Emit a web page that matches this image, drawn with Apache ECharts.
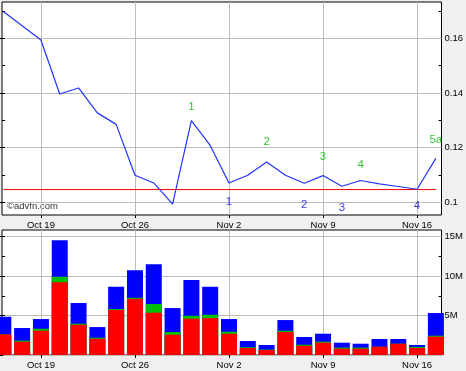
<!DOCTYPE html>
<html><head><meta charset="utf-8">
<script src="https://cdn.jsdelivr.net/npm/echarts@6/dist/echarts.min.js"></script>
<style>html,body{margin:0;padding:0;background:#f0f0f0}#c{width:466px;height:371px}</style>
</head><body><div id="c"></div>
<script>
// trading days (index = position on the axis)
const dates = ['Oct 15','Oct 16','Oct 19','Oct 20','Oct 21','Oct 22','Oct 23','Oct 26','Oct 27','Oct 28','Oct 29','Oct 30',
  'Nov 2','Nov 3','Nov 4','Nov 5','Nov 6','Nov 9','Nov 10','Nov 11','Nov 12','Nov 13','Nov 16','Nov 17'];
const price = [0.1697,0.1645,0.1593,0.1396,0.1418,0.1327,0.1285,0.1099,0.1071,0.0994,0.1299,0.1208,
  0.1071,0.1099,0.1148,0.1099,0.1070,0.1098,0.1059,0.1080,0.1068,0.1058,0.1048,0.1161];
const refLevel = 0.1047;
// volume (millions)
const volRed   = [2.62,1.68,3.08,9.24,3.84,2.06,5.70,7.13,5.36,2.57,4.60,4.68,2.70,0.89,0.63,2.91,1.18,1.56,0.80,0.80,1.05,1.43,0.89,2.32];
const volGreen = [0.00,0.15,0.25,0.67,0.13,0.13,0.13,0.13,1.10,0.34,0.38,0.42,0.25,0.10,0.06,0.16,0.13,0.13,0.13,0.13,0.00,0.00,0.13,0.13];
const volBlue  = [2.23,1.59,1.23,4.65,2.61,1.35,2.82,3.50,5.06,3.04,4.52,3.55,1.61,0.78,0.58,1.36,0.97,1.01,0.63,0.50,0.98,0.60,0.25,2.87];
// axis ticks
const dateTickIdx = [2,7,12,17,22];
const dateTickLabels = ['Oct 19','Oct 26','Nov 2','Nov 9','Nov 16'];
const priceTicks = [0.10,0.12,0.14,0.16];
const priceMinor = [0.11,0.13,0.15,0.17];
const priceAll = [0.10,0.11,0.12,0.13,0.14,0.15,0.16,0.17];
const volTicks = [0,5,10,15];
const volLabels = [5,10,15];
const volMinor = [2.5,7.5,12.5];
const volAll = [2.5,5,7.5,10,12.5,15];
// annotations
const greenIdx = [10,14,17,19,23], greenText = ['1','2','3','4','5a'], greenVal = [0.1350,0.1223,0.1165,0.1139,0.1227];
const blueIdx = [12,16,18,22], blueText = ['1','2','3','4'], blueVal = [0.1002,0.0991,0.0979,0.0987];

const FONT = 'Liberation Sans';
const xMin = -0.07, xMax = 23.3;
const pMin = 0.0954, pMax = 0.1732;
const vMin = 0, vMax = 15.85;
const gridColor = '#b9bdbd';

// stacked tops (red, red+green, red+green+blue), drawn as overlapping bars
const topRed = volRed.map((v, i) => [i, v]);
const topGreen = volRed.map((v, i) => [i, v + volGreen[i]]);
const topBlue = volRed.map((v, i) => [i, v + volGreen[i] + volBlue[i]]);

function xAxisFor(gi) {
  return {
    type: 'value', gridIndex: gi, min: xMin, max: xMax, position: 'bottom',
    axisLine: {show: false},
    axisTick: {show: true, inside: false, length: 3, customValues: dateTickIdx, lineStyle: {color: '#000'}},
    axisLabel: {show: true, margin: 5, customValues: dateTickIdx, color: '#000', fontFamily: FONT, fontSize: 9.5,
      formatter: v => dateTickLabels[dateTickIdx.indexOf(Math.round(v))] || ''},
    splitLine: {show: true, lineStyle: {color: gridColor, width: 1}}
  };
}
function yTick(gi, pos, min, max, vals, len, extra) {
  return Object.assign({
    type: 'value', gridIndex: gi, position: pos, min: min, max: max,
    axisLine: {show: false},
    axisTick: {show: true, inside: true, length: len, customValues: vals, lineStyle: {color: '#000'}},
    axisLabel: {show: false, customValues: vals},
    splitLine: {show: false}
  }, extra || {});
}
function volBar(data, color, z) {
  return {type: 'bar', xAxisIndex: 1, yAxisIndex: 3, barWidth: 16, barGap: '-100%', clip: true,
    data: data, itemStyle: {color: color}, z: z};
}

const option = {
  animation: false,
  backgroundColor: '#f0f0f0',
  grid: [
    {left: 2, top: 2, width: 440, height: 213, show: true, backgroundColor: '#fff', borderColor: '#000', borderWidth: 1},
    {left: 2, top: 230, width: 440, height: 125, show: true, backgroundColor: '#fff', borderColor: '#000', borderWidth: 1}
  ],
  xAxis: [xAxisFor(0), xAxisFor(1)],
  yAxis: [
    yTick(0, 'right', pMin, pMax, priceTicks, 5, {
      axisLabel: {show: true, inside: false, margin: 3, customValues: priceTicks, color: '#000', fontFamily: FONT, fontSize: 9.5},
      splitLine: {show: true, lineStyle: {color: gridColor, width: 1}}
    }),
    yTick(0, 'right', pMin, pMax, priceMinor, 3),
    yTick(0, 'left', pMin, pMax, priceAll, 3),
    yTick(1, 'right', vMin, vMax, volTicks, 5, {
      axisLabel: {show: true, margin: 3, customValues: volLabels, color: '#000', fontFamily: FONT, fontSize: 9.5, formatter: v => v + 'M'},
      splitLine: {show: true, lineStyle: {color: gridColor, width: 1}}
    }),
    yTick(1, 'right', vMin, vMax, volMinor, 3),
    yTick(1, 'left', vMin, vMax, volAll, 3)
  ],
  graphic: [{type: 'text', left: 7, top: 201, style: {text: '\u00a9advfn.com', fill: '#333', font: '9.5px "Liberation Sans"'}}],
  series: [
    {type: 'line', xAxisIndex: 0, yAxisIndex: 0, data: [[0, refLevel], [dates.length - 1, refLevel]],
      showSymbol: false, lineStyle: {color: '#ff0000', width: 1}, z: 3},
    {type: 'line', xAxisIndex: 0, yAxisIndex: 0, data: price.map((v, i) => [i, v]),
      showSymbol: false, lineStyle: {color: '#2233ff', width: 1.2}, z: 4},
    {type: 'scatter', xAxisIndex: 0, yAxisIndex: 0, symbolSize: 1, itemStyle: {color: 'rgba(0,0,0,0)'},
      data: greenIdx.map((x, k) => [x, greenVal[k]]),
      label: {show: true, position: 'inside', color: '#00b800', fontFamily: FONT, fontSize: 11.5, formatter: p => greenText[p.dataIndex]}, z: 5},
    {type: 'scatter', xAxisIndex: 0, yAxisIndex: 0, symbolSize: 1, itemStyle: {color: 'rgba(0,0,0,0)'},
      data: blueIdx.map((x, k) => [x, blueVal[k]]),
      label: {show: true, position: 'inside', color: '#0000ee', fontFamily: FONT, fontSize: 11.5, formatter: p => blueText[p.dataIndex]}, z: 5},
    volBar(topBlue, '#0000ff', 2),
    volBar(topGreen, '#00c000', 3),
    volBar(topRed, '#ff0000', 4)
  ]
};
echarts.init(document.getElementById('c'), null, {renderer: 'canvas'}).setOption(option);
</script></body></html>
